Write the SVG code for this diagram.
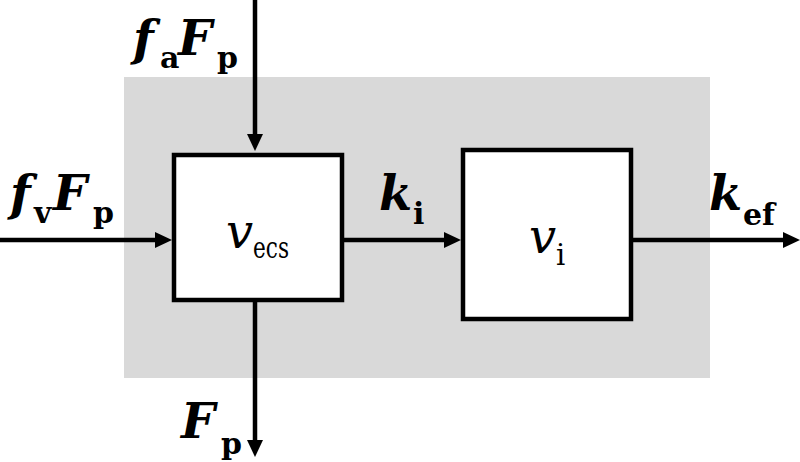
<svg xmlns="http://www.w3.org/2000/svg" width="800" height="462" viewBox="0 0 800 462">
<defs>
<marker id="ah" markerUnits="userSpaceOnUse" markerWidth="18" markerHeight="18" refX="8" refY="8" orient="auto">
<path d="M0,0 L17,8 L0,16 z" fill="#000"/>
</marker>
<style>
.box{fill:#fff;stroke:#000;stroke-width:4.5}
.conn{stroke:#000;stroke-width:4.5;fill:none}
.bi{font-weight:bold;font-style:italic;font-size:48px}
.bs{font-weight:bold;font-size:30px}
.ri{font-style:italic;font-size:48px}
.rs{font-size:29px}
</style>
</defs>
<rect id="bg" x="124" y="77" width="586" height="301" fill="#d9d9d9"/>
<g id="connectors">
<line class="conn" x1="255" y1="0" x2="255" y2="142" marker-end="url(#ah)"/>
<line class="conn" x1="0" y1="240" x2="163" y2="240" marker-end="url(#ah)"/>
<line class="conn" x1="344" y1="240" x2="452" y2="240" marker-end="url(#ah)"/>
<line class="conn" x1="633" y1="240" x2="791" y2="240" marker-end="url(#ah)"/>
<line class="conn" x1="255" y1="302" x2="255" y2="448" marker-end="url(#ah)"/>
</g>
<g font-family="DejaVu Serif, serif" fill="#000">
<g id="node-vecs">
<rect class="box" x="174" y="155" width="168" height="145"/>
<text class="ri" x="226" y="248">v</text>
<text class="rs" x="253" y="258" textLength="36" lengthAdjust="spacingAndGlyphs">ecs</text>
</g>
<g id="node-vi">
<rect class="box" x="463" y="150" width="168" height="169"/>
<text class="ri" x="529" y="253">v</text>
<text class="rs" x="556" y="265">i</text>
</g>
<g id="label-faFp">
<text class="bi" x="133" y="55">f</text>
<text class="bs" x="160" y="68">a</text>
<text class="bi" x="178" y="55">F</text>
<text class="bs" x="217" y="68">p</text>
</g>
<g id="label-fvFp">
<text class="bi" x="10" y="210">f</text>
<text class="bs" x="34" y="223">v</text>
<text class="bi" x="53" y="210">F</text>
<text class="bs" x="93" y="223">p</text>
</g>
<g id="label-ki">
<text class="bi" x="379" y="210">k</text>
<text class="bs" x="413" y="224">i</text>
</g>
<g id="label-kef">
<text class="bi" x="709" y="210">k</text>
<text class="bs" x="743" y="225">ef</text>
</g>
<g id="label-Fp">
<text class="bi" x="181" y="438">F</text>
<text class="bs" x="221" y="454">p</text>
</g>
</g>
</svg>
